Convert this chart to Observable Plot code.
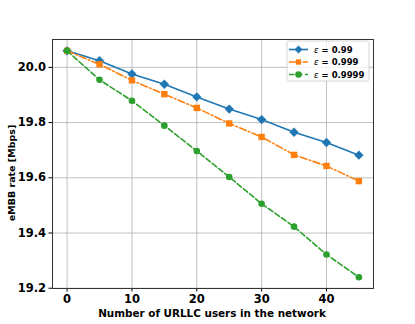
<!DOCTYPE html>
<html><head><meta charset="utf-8">
<script src="https://cdn.jsdelivr.net/npm/d3@7"></script>
<script src="https://cdn.jsdelivr.net/npm/@observablehq/plot@0.6"></script>
<style>body{margin:0;background:#fff}</style>
</head><body><div id="chart"></div>
<script>
const users = [0, 5, 10, 15, 20, 25, 30, 35, 40, 45];
const rate099 = [20.060, 20.024, 19.976, 19.939, 19.893, 19.849, 19.811, 19.765, 19.728, 19.682];
const rate0999 = [20.060, 20.011, 19.953, 19.903, 19.853, 19.797, 19.748, 19.683, 19.643, 19.588];
const rate09999 = [20.060, 19.955, 19.879, 19.789, 19.697, 19.603, 19.506, 19.423, 19.322, 19.240];
const seriesLabels = ["0.99", "0.999", "0.9999"];
const xTicks = [0, 10, 20, 30, 40];
const yTicks = [19.2, 19.4, 19.6, 19.8, 20.0];

const colors = ["#1f77b4", "#ff7f0e", "#2ca02c"];
const dashes = [null, "7,2.5,1.5,2.5", "5.5,2.5"];
const symbols = ["diamond2", "square", "circle"];
const rSizes = [4.2, 3.6, 3.3];
const allSeries = [rate099, rate0999, rate09999];
const data = allSeries.map((vals, s) => users.map((u, i) => ({x: u, y: vals[i], s})));

const font = "DejaVu Sans, sans-serif";
const marks = [
  Plot.gridX(xTicks, {stroke: "#b0b0b0", strokeOpacity: 1, strokeWidth: 0.8}),
  Plot.gridY(yTicks, {stroke: "#b0b0b0", strokeOpacity: 1, strokeWidth: 0.8}),
  Plot.axisX(xTicks, {tickSize: 3.5, tickPadding: 3, fontSize: 11.5, fontWeight: "bold", fill: "#000", label: null}),
  Plot.axisY(yTicks, {tickSize: 3.5, tickPadding: 3, fontSize: 11.5, fontWeight: "bold", fill: "#000", tickFormat: d => d.toFixed(1), label: null}),
];
data.forEach((d, s) => {
  marks.push(Plot.line(d, {x: "x", y: "y", stroke: colors[s], strokeWidth: 1.6, strokeDasharray: dashes[s]}));
  marks.push(Plot.dot(d, {x: "x", y: "y", fill: colors[s], stroke: "none", symbol: symbols[s], r: rSizes[s]}));
});
marks.push(Plot.frame({stroke: "#333", strokeWidth: 1}));

const chart = Plot.plot({
  width: 415, height: 324,
  marginLeft: 52, marginTop: 39, marginRight: 42, marginBottom: 36,
  style: {fontFamily: font, background: "#fff"},
  x: {domain: [-2.25, 47.25]},
  y: {domain: [19.199, 20.101]},
  marks
});
document.getElementById("chart").appendChild(chart);

const svg = d3.select(chart);
svg.append("text").attr("x", 212).attr("y", 317).attr("text-anchor", "middle")
  .attr("font-family", font).attr("font-weight", "bold").attr("font-size", 10.4).text("Number of URLLC users in the network");
svg.append("text").attr("transform", "translate(15,173) rotate(-90)").attr("text-anchor", "middle")
  .attr("font-family", font).attr("font-weight", "bold").attr("font-size", 9.5).text("eMBB rate [Mbps]");

// legend
const lg = svg.append("g").attr("transform", "translate(287,41)");
lg.append("rect").attr("width", 82).attr("height", 40).attr("rx", 2)
  .attr("fill", "#fff").attr("fill-opacity", 0.8).attr("stroke", "#ccc").attr("stroke-width", 0.8);
seriesLabels.forEach((lab, s) => {
  const y = 8.5 + s * 12.5;
  lg.append("line").attr("x1", 2).attr("x2", 21).attr("y1", y).attr("y2", y)
    .attr("stroke", colors[s]).attr("stroke-width", 1.6).attr("stroke-dasharray", dashes[s]);
  const sym = d3.symbol().type([d3.symbolDiamond2, d3.symbolSquare2, d3.symbolCircle][s]).size([40, 36, 34][s]);
  lg.append("path").attr("d", sym()).attr("transform", `translate(11.5,${y})`).attr("fill", colors[s]);
  const t = lg.append("text").attr("x", 27).attr("y", y + 3.3).attr("text-anchor", "start")
    .attr("font-family", font).attr("font-size", 8.5).attr("font-weight", "bold");
  t.append("tspan").attr("font-style", "italic").attr("font-weight", "normal").text("ε");
  t.append("tspan").text(" = " + lab);
});
</script></body></html>
